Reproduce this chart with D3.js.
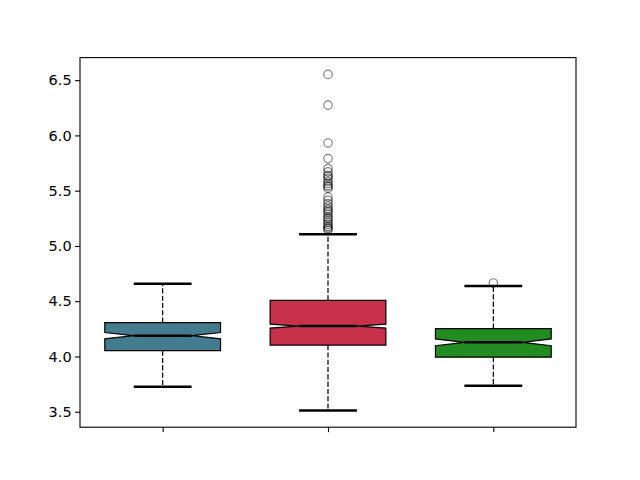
<!DOCTYPE html>
<html><head><meta charset="utf-8">
<script src="https://cdn.jsdelivr.net/npm/d3@7"></script>
<style>body{margin:0;background:#fff}svg{display:block}</style>
</head><body>
<script>
const positions = [1, 2, 3];
const boxColors = ["#437c8e", "#c7324a", "#228b22"];
const whiskerLow = [3.726, 3.512, 3.735];
const q1 = [4.052, 4.103, 3.994];
const median = [4.188, 4.275, 4.128];
const q3 = [4.306, 4.508, 4.252];
const whiskerHigh = [4.659, 5.106, 4.637];
const ciLow = [4.160, 4.257, 4.097];
const ciHigh = [4.217, 4.293, 4.159];
const outliers1 = [];
const outliers2 = [6.552, 6.274, 5.932, 5.790, 5.700, 5.670, 5.640, 5.630, 5.610, 5.585, 5.565, 5.545, 5.534, 5.520,
  5.443, 5.413, 5.384, 5.360, 5.338, 5.323, 5.307, 5.287, 5.262, 5.250, 5.232, 5.214, 5.196, 5.178, 5.165, 5.157, 5.142];
const outliers3 = [4.665];
const outliers = [outliers1, outliers2, outliers3];
const yTicks = [3.5, 4.0, 4.5, 5.0, 5.5, 6.0, 6.5];

const W = 640, H = 480;
const L = 80, R = 576, T = 57.6, B = 427.2;
const svg = d3.select("body").append("svg").attr("width", W).attr("height", H);

const allVals = [].concat(whiskerLow, whiskerHigh, ...outliers);
const lo = d3.min(allVals), hi = d3.max(allVals), m = (hi - lo) * 0.05;
const x = d3.scaleLinear().domain([0.5, 3.5]).range([L, R]);
const y = d3.scaleLinear().domain([lo - m, hi + m]).range([B, T]);
const width = 0.7;

const g = svg.append("g");
positions.forEach((p, i) => {
  const bl = x(p - width / 2), br = x(p + width / 2);
  const nl = x(p - width / 4), nr = x(p + width / 4);
  g.append("line").attr("x1", x(p)).attr("x2", x(p)).attr("y1", y(q1[i])).attr("y2", y(whiskerLow[i]))
    .attr("stroke", "#000").attr("stroke-width", 1.2).attr("stroke-dasharray", "5.1,2.2");
  g.append("line").attr("x1", x(p)).attr("x2", x(p)).attr("y1", y(q3[i])).attr("y2", y(whiskerHigh[i]))
    .attr("stroke", "#000").attr("stroke-width", 1.2).attr("stroke-dasharray", "5.1,2.2");
  [whiskerLow[i], whiskerHigh[i]].forEach(v => {
    g.append("line").attr("x1", nl).attr("x2", nr).attr("y1", y(v)).attr("y2", y(v))
      .attr("stroke", "#000").attr("stroke-width", 2.5);
  });
  const pts = [[bl, q1[i]], [br, q1[i]], [br, ciLow[i]], [nr, median[i]], [br, ciHigh[i]], [br, q3[i]],
    [bl, q3[i]], [bl, ciHigh[i]], [nl, median[i]], [bl, ciLow[i]], [bl, q1[i]]];
  g.append("path").attr("d", d3.line().x(d => d[0]).y(d => y(d[1]))(pts) + "Z")
    .attr("fill", boxColors[i]).attr("stroke", "#000").attr("stroke-width", 1.2).attr("stroke-linejoin", "miter");
  g.append("line").attr("x1", nl).attr("x2", nr).attr("y1", y(median[i])).attr("y2", y(median[i]))
    .attr("stroke", "#000").attr("stroke-width", 2.5);
  g.selectAll(null).data(outliers[i]).enter().append("circle")
    .attr("cx", x(p)).attr("cy", d => y(d)).attr("r", 4.2)
    .attr("fill", "none").attr("stroke", "#000").attr("stroke-opacity", 0.5).attr("stroke-width", 1.2);
});

const yAxis = d3.axisLeft(y).tickValues(yTicks).tickFormat(d3.format(".1f")).tickSize(4.9).tickPadding(3.5);
const xAxis = d3.axisBottom(x).tickValues(positions).tickFormat(() => "").tickSize(4.9);
const ya = svg.append("g").attr("transform", `translate(${L},0)`).call(yAxis);
const xa = svg.append("g").attr("transform", `translate(0,${B})`).call(xAxis);
[ya, xa].forEach(a => {
  a.select(".domain").remove();
  a.selectAll("line").attr("stroke", "#000").attr("stroke-width", 1.1);
  a.selectAll("text").attr("font-family", "DejaVu Sans").attr("font-size", "14.5px").attr("fill", "#000");
});
svg.append("rect").attr("x", L).attr("y", T).attr("width", R - L).attr("height", B - T)
  .attr("fill", "none").attr("stroke", "#000").attr("stroke-width", 1.1);
</script>
</body></html>
